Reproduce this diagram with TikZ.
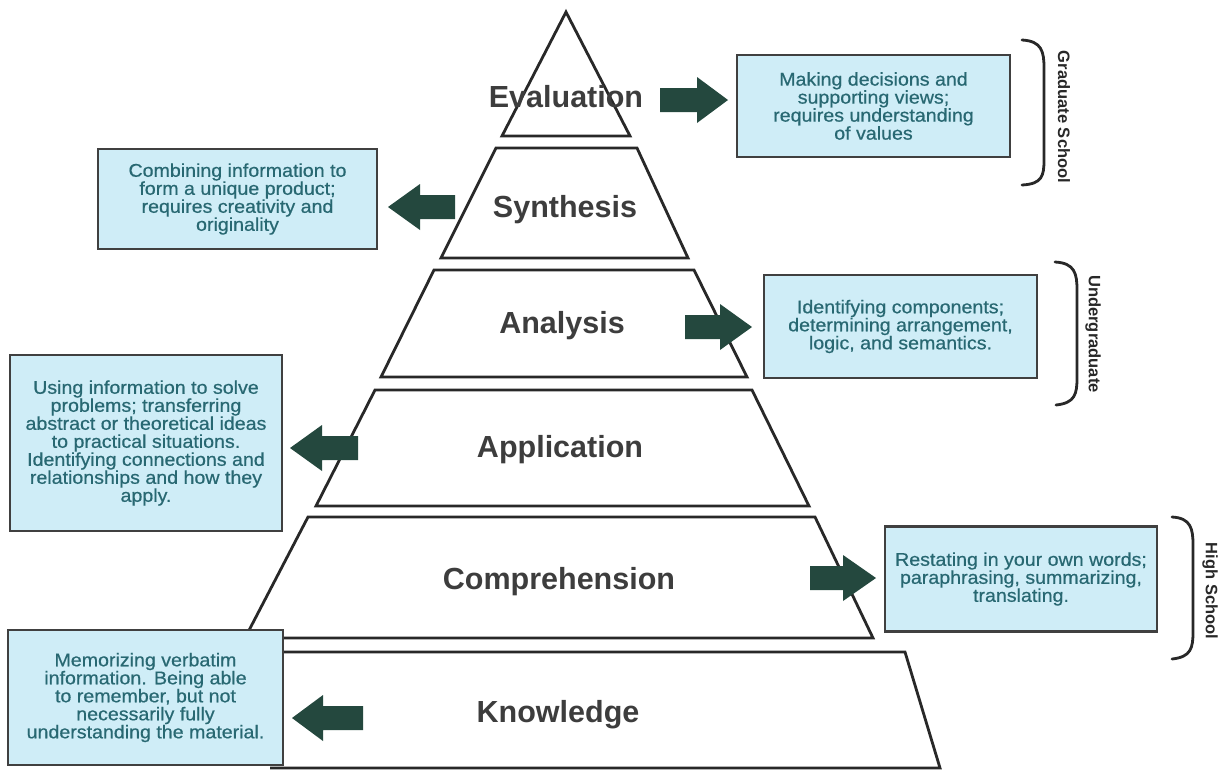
\documentclass[tikz,border=0pt]{standalone}
\usepackage{fontspec}
\setmainfont{Liberation Sans}
\newfontfamily\boxfont[FakeStretch=1.06,FakeBold=0.6]{Liberation Sans}
\definecolor{boxfill}{RGB}{207,237,247}
\definecolor{boxtext}{RGB}{40,104,114}
\definecolor{arrowgreen}{RGB}{36,72,62}
\definecolor{ink}{RGB}{40,40,40}
\newcommand\blockarr[4]{% tail x, head base x, tip x, y
  \fill[blk] (#1,#4-12) -- (#2,#4-12) -- (#2,#4-23) -- (#3,#4) -- (#2,#4+23) -- (#2,#4+12) -- (#1,#4+12) -- cycle;}
\begin{document}
\begin{tikzpicture}[x=1pt,y=-1pt,
  layer/.style={draw=ink, line width=2.8pt, line join=miter, fill=white},
  lvl/.style={font=\fontsize{30.5}{32}\selectfont\bfseries, text=ink!90},
  descbox/.style={draw=black!75, line width=2.2pt, fill=boxfill, text=boxtext,
    font=\boxfont\fontsize{18.5}{18}\selectfont, align=center, inner sep=0pt},
  blk/.style={fill=arrowgreen},
  brace/.style={draw=ink, line width=2.8pt, line cap=round},
  stage/.style={font=\fontsize{16.5}{16.5}\selectfont\bfseries, text=ink, rotate=-90}]
\useasboundingbox[fill=white] (0,0) rectangle (1220,772);

% pyramid layers
\draw[layer] (566,12) -- (630,136) -- (502,136) -- cycle;
\draw[layer] (496,148) -- (637,148) -- (688,258) -- (441,258) -- cycle;
\draw[layer] (434,270) -- (694,270) -- (747,377) -- (381,377) -- cycle;
\draw[layer] (375,390) -- (752,390) -- (809,506) -- (316,506) -- cycle;
\draw[layer] (308,517) -- (815,517) -- (873,638) -- (245,638) -- cycle;
\fill[white] (270,652) -- (905,652) -- (940,768) -- (270,768) -- cycle;
\draw[layer, fill=none] (270,652) -- (905,652) -- (940,768) -- (270,768);

% level labels
\node[lvl] (evaluation) at (566,97) {Evaluation};
\node[lvl] (synthesis) at (565,210) {Synthesis};
\node[lvl] (analysis) at (562,326) {Analysis};
\node[lvl] (application) at (560,450) {Application};
\node[lvl] (comprehension) at (559,582) {Comprehension};
\node[lvl] (knowledge) at (558,715) {Knowledge};

% description boxes
\node[descbox, minimum width=273pt, minimum height=102pt] (evalbox) at (873.5,106)
  {Making decisions and\\supporting views;\\requires understanding\\of values};
\node[descbox, minimum width=279pt, minimum height=100pt] (synbox) at (237.5,199)
  {Combining information to\\form a unique product;\\requires creativity and\\originality};
\node[descbox, minimum width=273pt, minimum height=103pt] (anabox) at (900.5,326.5)
  {Identifying components;\\determining arrangement,\\logic, and semantics.};
\node[descbox, minimum width=272pt, minimum height=176pt] (appbox) at (146,443)
  {Using information to solve\\problems; transferring\\abstract or theoretical ideas\\to practical situations.\\Identifying connections and\\relationships and how they\\apply.};
\node[descbox, minimum width=272pt, minimum height=105pt] (combox) at (1021,579)
  {Restating in your own words;\\paraphrasing, summarizing,\\translating.};
\node[descbox, minimum width=275pt, minimum height=135pt] (knobox) at (145.5,697.5)
  {Memorizing verbatim\\information. Being able\\to remember, but not\\necessarily fully\\understanding the material.};

% block arrows
\blockarr{660}{697}{728}{100}
\blockarr{455}{420}{388}{207}
\blockarr{685}{720}{752}{327}
\blockarr{358}{322}{290}{448}
\blockarr{810}{843}{876}{578}
\blockarr{363}{323}{292}{718}

% braces
\draw[brace] (1022,40) .. controls (1042,41) and (1044,52) .. (1044,68) -- (1044,160) .. controls (1044,176) and (1042,184) .. (1022,185);
\draw[brace] (1055,262) .. controls (1075,263) and (1077,274) .. (1077,290) -- (1077,378) .. controls (1077,394) and (1075,403) .. (1056,405);
\draw[brace] (1172,517) .. controls (1191,518) and (1193,529) .. (1193,545) -- (1193,632) .. controls (1193,648) and (1191,657) .. (1172,659);

% stage labels
\node[stage] (grad) at (1064,117) {Graduate School};
\node[stage] (under) at (1093,334) {Undergraduate};
\node[stage] (high) at (1210,591) {High School};
\end{tikzpicture}
\end{document}
